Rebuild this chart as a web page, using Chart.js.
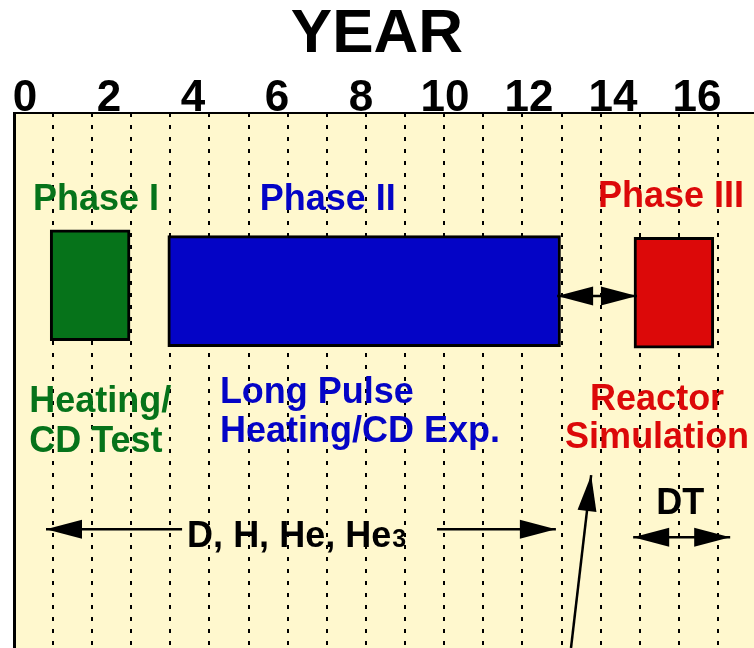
<!DOCTYPE html>
<html>
<head>
<meta charset="utf-8">
<script src="https://cdn.jsdelivr.net/npm/chart.js@4.4.1/dist/chart.umd.min.js"></script>
<style>
  body { margin: 0; background: #fff; }
  #wrap { width: 754px; height: 648px; }
</style>
</head>
<body>
<div id="wrap"><canvas id="planChart" width="754" height="648"></canvas></div>
<script>
// Дані: роки на осі та фази програми
const yearTicks = [0, 2, 4, 6, 8, 10, 12, 14, 16];
const phaseNames = ['Phase I', 'Phase II', 'Phase III'];
const phaseStart = [0.6, 3.4, 14.5];
const phaseEnd = [2.5, 12.75, 16.4];

// Кольори та розмітка
const FONT = '"Liberation Sans", Arial, Helvetica, sans-serif';
const GREEN = '#06731a';
const BLUE = '#0404c6';
const RED = '#dc0909';
const BG = '#fff8ce';
const phaseColors = [GREEN, BLUE, RED];
const BAR_Y = [32.2, 33.3, 33.6];   // вертикальне положення смуг (0..100 зверху вниз)

// Підписи на полі графіка (x у роках, y у 0..100)
const notes = [
  { text: 'Phase I', x: 1.69, y: 18.1, color: GREEN, align: 'center' },
  { text: 'Phase II', x: 7.21, y: 18.1, color: BLUE, align: 'center' },
  { text: 'Phase III', x: 15.38, y: 17.6, color: RED, align: 'center' },
  { text: 'Heating/', x: 0.1, y: 55.9, color: GREEN, align: 'left' },
  { text: 'CD Test', x: 0.1, y: 63.4, color: GREEN, align: 'left' },
  { text: 'Long Pulse', x: 4.64, y: 54.2, color: BLUE, align: 'left' },
  { text: 'Heating/CD Exp.', x: 4.64, y: 61.5, color: BLUE, align: 'left' },
  { text: 'Reactor', x: 15.05, y: 55.5, color: RED, align: 'center' },
  { text: 'Simulation', x: 15.05, y: 62.6, color: RED, align: 'center' },
  { text: 'DT', x: 15.6, y: 75.0, color: '#000', align: 'center' }
];

// Стрілки: [x1, y1, x2, y2, голова на початку, голова в кінці]
const arrows = [
  [3.74, 77.8, 0.5, 77.8, false, true],
  [9.81, 77.8, 12.64, 77.8, false, true],
  [12.67, 34.2, 14.57, 34.2, true, true],
  [14.48, 79.3, 16.79, 79.3, true, true],
  [13.0, 100, 13.48, 67.7, false, true]
];

function drawHead(ctx, fx, fy, tx, ty) {
  const ang = Math.atan2(ty - fy, tx - fx);
  const len = 36, half = 9.5;
  ctx.beginPath();
  ctx.moveTo(tx, ty);
  ctx.lineTo(tx - len * Math.cos(ang) + half * Math.sin(ang), ty - len * Math.sin(ang) - half * Math.cos(ang));
  ctx.lineTo(tx - len * Math.cos(ang) - half * Math.sin(ang), ty - len * Math.sin(ang) + half * Math.cos(ang));
  ctx.closePath();
  ctx.fill();
}

const backgroundPlugin = {
  id: 'bgFill',
  beforeDraw(chart) {
    const { ctx, chartArea: a } = chart;
    ctx.save();
    ctx.fillStyle = BG;
    ctx.fillRect(a.left, a.top, a.right - a.left, a.bottom - a.top);
    ctx.restore();
  }
};

const notesPlugin = {
  id: 'notes',
  afterDatasetsDraw(chart) {
    const { ctx, scales } = chart;
    const sx = scales.x, sy = scales.y;
    ctx.save();
    ctx.textBaseline = 'alphabetic';
    ctx.font = 'bold 36px ' + FONT;
    notes.forEach(n => {
      ctx.fillStyle = n.color;
      ctx.textAlign = n.align;
      ctx.fillText(n.text, sx.getPixelForValue(n.x), sy.getPixelForValue(n.y));
    });

    // D, H, He, He3 з маленькою трійкою
    ctx.fillStyle = '#000';
    ctx.textAlign = 'left';
    const bx = sx.getPixelForValue(3.86), by = sy.getPixelForValue(81.1);
    const main = 'D, H, He, He';
    ctx.fillText(main, bx, by);
    const w = ctx.measureText(main).width;
    ctx.font = 'bold 25px ' + FONT;
    ctx.fillText('3', bx + w + 1, by);

    // Стрілки
    ctx.strokeStyle = '#000';
    ctx.lineWidth = 2.5;
    arrows.forEach(([x1, y1, x2, y2, h1, h2]) => {
      const px1 = sx.getPixelForValue(x1), py1 = sy.getPixelForValue(y1);
      const px2 = sx.getPixelForValue(x2), py2 = sy.getPixelForValue(y2);
      ctx.beginPath();
      ctx.moveTo(px1, py1);
      ctx.lineTo(px2, py2);
      ctx.stroke();
      if (h1) drawHead(ctx, px2, py2, px1, py1);
      if (h2) drawHead(ctx, px1, py1, px2, py2);
    });
    ctx.restore();
  }
};

const ctx = document.getElementById('planChart').getContext('2d');
const planChart = new Chart(ctx, {
  type: 'bar',
  data: {
    labels: phaseNames,
    datasets: [{
      label: 'Phases',
      data: phaseStart.map((s, i) => ({ x: [s, phaseEnd[i]], y: BAR_Y[i] })),
      backgroundColor: phaseColors,
      borderColor: '#000',
      borderWidth: 3,
      borderSkipped: false,
      barThickness: 111,
      xAxisID: 'x',
      yAxisID: 'y'
    }]
  },
  options: {
    indexAxis: 'y',
    responsive: false,
    animation: false,
    layout: { padding: 0 },
    scales: {
      x: {
        type: 'linear',
        position: 'top',
        min: -0.262,
        max: 17.357,
        offset: false,
        afterBuildTicks: scale => { scale.ticks = yearTicks.map(v => ({ value: v })); },
        afterFit: scale => { scale.height = 47; },
        grid: { display: false, drawTicks: false },
        border: { display: true, color: '#000', width: 2 },
        ticks: {
          color: '#000',
          padding: -12,
          maxRotation: 0,
          autoSkip: false,
          font: { family: FONT, size: 44, weight: 'bold' }
        }
      },
      x2: {
        type: 'linear',
        position: 'bottom',
        min: -0.997,
        max: 17.92,
        offset: false,
        z: 1,
        afterBuildTicks: scale => {
          const t = [];
          for (let k = 0; k <= 17; k++) t.push({ value: k });
          scale.ticks = t;
        },
        afterFit: scale => { scale.height = 0; },
        ticks: { display: false, padding: 0 },
        grid: { display: true, color: '#000', lineWidth: 2, drawTicks: false },
        border: { display: false, dash: [4, 8] }
      },
      y: {
        type: 'linear',
        position: 'left',
        min: 0,
        max: 100,
        reverse: true,
        offset: false,
        afterFit: scale => { scale.width = 14; },
        ticks: { display: false },
        grid: { display: false, drawTicks: false },
        border: { display: true, color: '#000', width: 3 }
      }
    },
    plugins: {
      legend: { display: false },
      tooltip: { enabled: false },
      title: {
        display: true,
        text: 'YEAR',
        color: '#000',
        padding: { top: 4, bottom: 0 },
        font: { family: FONT, size: 62, weight: 'bold', lineHeight: 1 }
      }
    }
  },
  plugins: [backgroundPlugin, notesPlugin]
});
</script>
</body>
</html>
